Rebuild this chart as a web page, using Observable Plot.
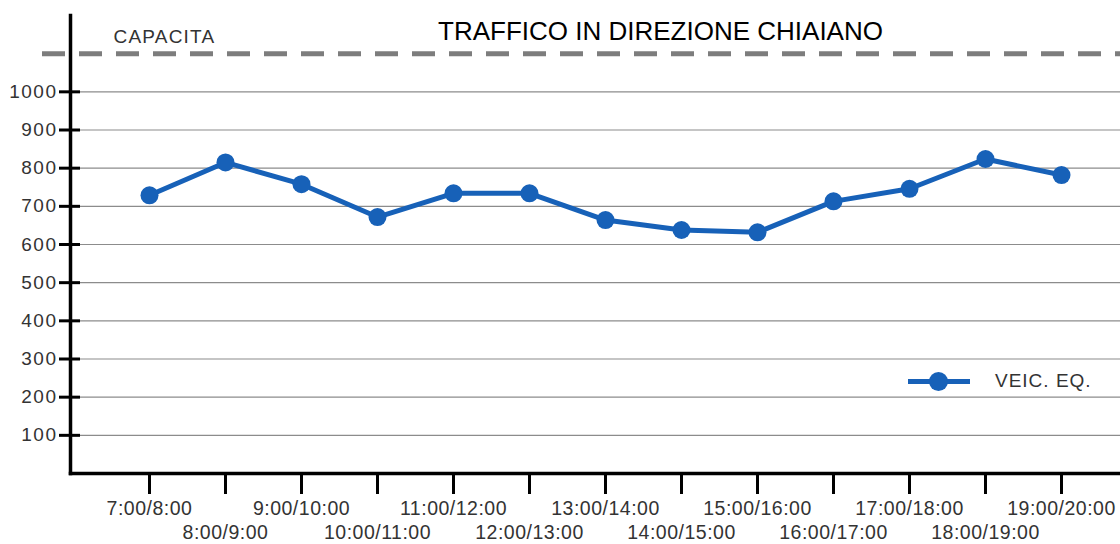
<!DOCTYPE html>
<html><head><meta charset="utf-8">
<script src="https://cdn.jsdelivr.net/npm/d3@7"></script>
<script src="https://cdn.jsdelivr.net/npm/@observablehq/plot@0.6"></script>
<style>
body{margin:0;background:#fff;font-family:"Liberation Sans",Arial,sans-serif;}
#wrap{position:relative;width:1120px;height:544px;overflow:hidden;}
#wrap svg{display:block;}
[aria-label="y-axis tick label"] text{letter-spacing:1.5px;}
[aria-label="x-axis tick label"] text{letter-spacing:0.5px;}
.cap-label text{letter-spacing:1.2px;}
.legend{position:absolute;left:908px;top:370px;height:22px;display:flex;align-items:center;}
.legend .sym{position:relative;width:62px;height:22px;}
.legend .sym .ln{position:absolute;left:0;top:8.5px;width:62px;height:5px;background:#1761b8;}
.legend .sym .dt{position:absolute;left:21px;top:1.5px;width:19px;height:19px;border-radius:50%;background:#1761b8;}
.legend .lbl{margin-left:25px;font-size:19px;color:#333;letter-spacing:1px;}
</style></head><body><div id="wrap"></div>
<script>
const slots = ["7:00/8:00","8:00/9:00","9:00/10:00","10:00/11:00","11:00/12:00","12:00/13:00","13:00/14:00","14:00/15:00","15:00/16:00","16:00/17:00","17:00/18:00","18:00/19:00","19:00/20:00"];
const vehicles = [729,815,758,672,734,734,664,638,632,713,746,824,782];
const capacity = 1100;
const yTicks = [100,200,300,400,500,600,700,800,900,1000];
const title = "TRAFFICO IN DIREZIONE CHIAIANO";
const capacityLabel = "CAPACITA";
const seriesLabel = "VEIC. EQ.";

const data = slots.map((s, i) => ({slot: s, value: vehicles[i]}));
const capData = [{slot: slots[0], value: capacity, label: capacityLabel}];
const blue = "#1761b8";
const font = '"Liberation Sans", Arial, sans-serif';

const chart = Plot.plot({
  width: 1120, height: 544,
  marginLeft: 70, marginRight: 0, marginTop: 15, marginBottom: 71,
  style: {fontFamily: font, fontSize: "18px", color: "#333", background: "#fff", overflow: "visible"},
  x: {type: "point", domain: slots, range: [146, 1063], padding: 0, axis: null},
  y: {domain: [0, 1200], axis: null},
  marks: [
    Plot.ruleY(yTicks, {stroke: "#8c8c8c", strokeWidth: 1.2}),
    Plot.ruleY([capacity], {stroke: "#7d7d7d", strokeWidth: 5, strokeDasharray: "23,14", insetLeft: -28}),
    Plot.text(capData, {x: "slot", y: "value", text: "label", dx: -36, dy: -17, textAnchor: "start", fontSize: 19, fill: "#333", className: "cap-label"}),
    Plot.text([title], {frameAnchor: "top", dx: 65, dy: 6, fontSize: 26, fill: "#000"}),
    Plot.line(data, {x: "slot", y: "value", stroke: blue, strokeWidth: 5, strokeLinejoin: "round"}),
    Plot.dot(data, {x: "slot", y: "value", r: 9, fill: blue}),
    Plot.axisY(yTicks, {anchor: "left", label: null, tickSize: 21, dx: 10, strokeWidth: 3, stroke: "#000", fill: "none"}),
    Plot.axisY(yTicks, {anchor: "left", label: null, tickSize: 0, tickPadding: 13, tickFormat: d => String(d), fontSize: 19, fill: "#333", stroke: "none"}),
    Plot.axisX(slots, {anchor: "bottom", label: null, tickSize: 21, strokeWidth: 3, stroke: "#000", fill: "none"}),
    Plot.axisX(slots.filter((d, i) => i % 2 === 0), {anchor: "bottom", label: null, tickSize: 0, tickPadding: 28, fontSize: 19.5, fill: "#333", stroke: "none"}),
    Plot.axisX(slots.filter((d, i) => i % 2 === 1), {anchor: "bottom", label: null, tickSize: 0, tickPadding: 52, fontSize: 19.5, fill: "#333", stroke: "none"}),
    Plot.frame({anchor: "left", stroke: "#000", strokeWidth: 3.5}),
    Plot.frame({anchor: "bottom", stroke: "#000", strokeWidth: 3.5})
  ]
});
const wrap = document.getElementById("wrap");
wrap.appendChild(chart);
const legend = document.createElement("div");
legend.className = "legend";
legend.innerHTML = '<div class="sym"><div class="ln"></div><div class="dt"></div></div><div class="lbl"></div>';
legend.querySelector(".lbl").textContent = seriesLabel;
wrap.appendChild(legend);
</script>
</body></html>
